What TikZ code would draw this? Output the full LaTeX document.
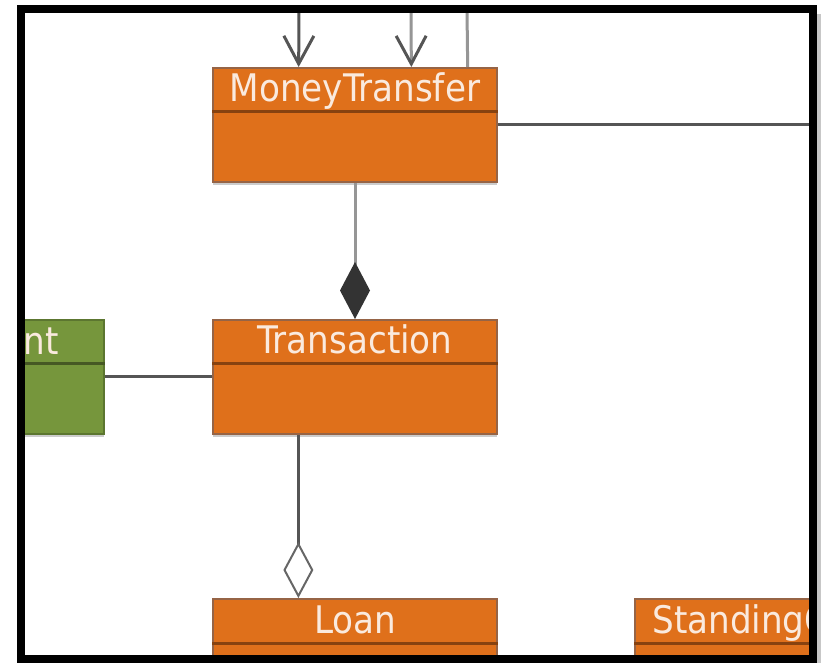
\documentclass[tikz,border=0pt]{standalone}
\usepackage{fontspec}
\setmainfont{DejaVu Sans Condensed}
\usetikzlibrary{arrows.meta,calc,shadows}
\definecolor{classorange}{RGB}{223,112,27}
\definecolor{classedge}{RGB}{150,100,70}
\definecolor{classrule}{RGB}{135,66,16}
\definecolor{classgreen}{RGB}{118,150,60}
\definecolor{greenedge}{RGB}{92,118,48}
\definecolor{greenrule}{RGB}{70,88,36}
\definecolor{titletext}{RGB}{250,234,222}
\definecolor{linkdark}{RGB}{85,85,85}
\definecolor{linklight}{RGB}{150,150,150}
\newcommand{\rulegap}{22.5pt}
\newcommand{\basegap}{17.5pt}

\begin{document}
\begin{tikzpicture}[x=0.5pt,y=-0.5pt,
    umlclass/.style={draw=classedge, fill=classorange, line width=1pt,
      minimum width=142pt, minimum height=57pt, inner sep=0pt,
      drop shadow={shadow xshift=0pt, shadow yshift=-1.5pt, fill=black!20, opacity=1}},
    greenclass/.style={umlclass, draw=greenedge, fill=classgreen},
    title/.style={text=titletext, inner sep=0pt, anchor=base, font=\fontsize{19}{23}\selectfont},
    link/.style={draw=linkdark, line width=1.5pt},
    lightlink/.style={draw=linklight, line width=1.5pt},
    openhead/.style={-{Straight Barb[length=14pt,width=15pt,line width=1.5pt,color=linkdark]}},
    fulldiamond/.style={-{Diamond[length=28.5pt,width=15pt,color=black!80]}},
    opendiamond/.style={-{Diamond[open,length=28pt,width=15pt,line width=1pt,fill=white,color=linkdark!90]}}]
  \useasboundingbox (0,0) rectangle (825,663);
  \fill[white] (0,0) rectangle (825,663);
  \begin{scope}
    \clip (25,13) rectangle (809,655);
    \node (mt) at (355,125) [umlclass] {};
    \node (trans) at (355,377) [umlclass] {};
    \node (acct) at (-38,377) [greenclass] {};
    \node (loan) at (355,656) [umlclass] {};
    \node (so) at (777,656) [umlclass] {};
    \foreach \c in {mt,trans,loan,so}
      \draw[classrule, line width=1.5pt] ([yshift=-\rulegap]\c.north west) -- ([yshift=-\rulegap]\c.north east);
    \draw[greenrule, line width=1.5pt] ([yshift=-\rulegap]acct.north west) -- ([yshift=-\rulegap]acct.north east);
    \node (mt-title) at ([yshift=-\basegap]mt.north) [title] {MoneyTransfer};
    \node (trans-title) at ([yshift=-\basegap]trans.north) [title] {Transaction};
    \node (loan-title) at ([yshift=-\basegap]loan.north) [title] {Loan};
    \node (so-title) at ([yshift=-\basegap]so.north) [title] {StandingOrder};
    \node (acct-title) at (59,355) [title, anchor=base east] {nt};

    \coordinate (in1) at (299,10);
    \coordinate (in2) at (411,10);
    \coordinate (in3) at (467,10);
    \coordinate (out1) at (812,125);
    \draw[link, openhead] (in1) -- ($(mt.north west)!.303!(mt.north east)$);
    \draw[lightlink, openhead] (in2) -- ($(mt.north west)!.697!(mt.north east)$);
    \draw[lightlink] (in3) -- ($(mt.north west)!.894!(mt.north east)$);
    \draw[link] (mt.east) -- (out1);
    \draw[lightlink, fulldiamond] (mt.south) -- (trans.north);
    \draw[link] (acct.east) -- (trans.west);
    \draw[link, opendiamond] ($(trans.south west)!.302!(trans.south east)$) -- ($(loan.north west)!.302!(loan.north east)$);
  \end{scope}
  \fill[black!22] (817,14) rectangle (821,663);
  \draw[line width=4pt] (21,9) rectangle (813,659);
\end{tikzpicture}
\end{document}
